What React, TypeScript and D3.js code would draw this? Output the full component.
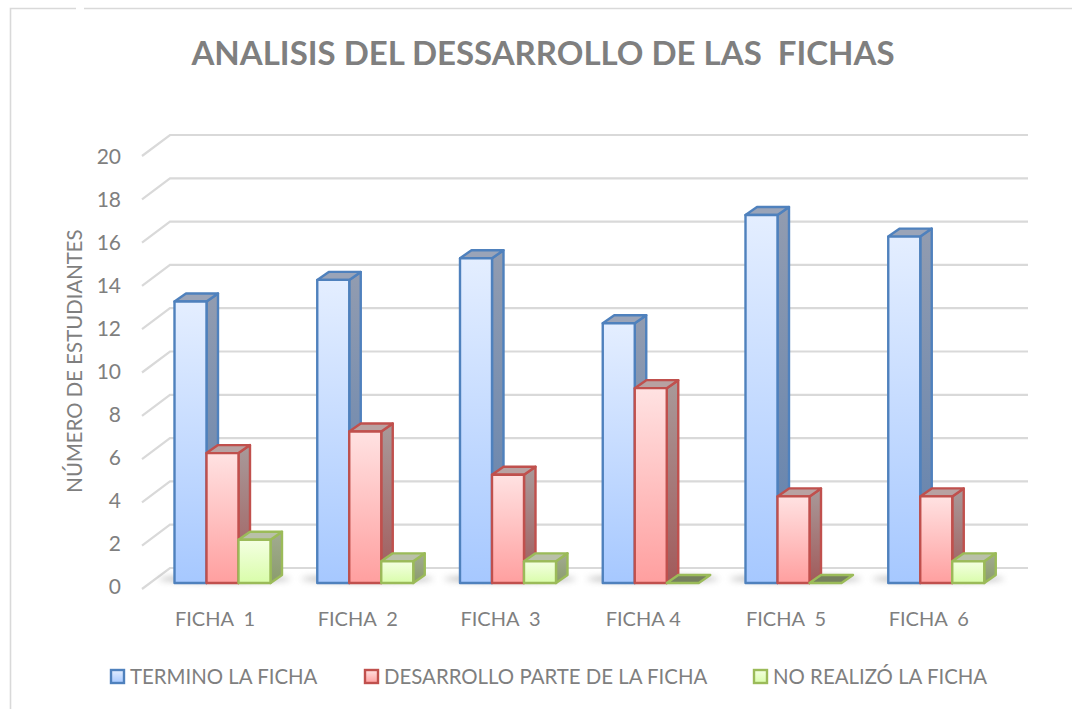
import React from "react";
import * as d3 from "d3";

const categories = ["FICHA  1", "FICHA  2", "FICHA  3", "FICHA 4", "FICHA  5", "FICHA  6"];
const termino = [13, 14, 15, 12, 17, 16];
const desarrollo = [6, 7, 5, 9, 4, 4];
const noRealizo = [2, 1, 1, 0, 0, 1];
const yTicks = [0, 2, 4, 6, 8, 10, 12, 14, 16, 18, 20];
const seriesNames = ["TERMINO LA FICHA", "DESARROLLO PARTE DE LA FICHA", "NO REALIZÓ LA FICHA"];
const seriesKeys = ["blue", "red", "green"];
const seriesValues = [termino, desarrollo, noRealizo];

const FONT = "Lato, 'Open Sans', sans-serif";
const GRAY = "#7f7f7f";

const styles: Record<string, any> = {
  blue: { stroke: "#4F81BD", top: "#E4EEFF", bottom: "#A6C8FF", sideTop: "#929CB0", sideBottom: "#5E80AE", cap: "#9AA4B8" },
  red: { stroke: "#C0504D", top: "#FFE2E2", bottom: "#FF9F9F", sideTop: "#A89A9A", sideBottom: "#A25A5A", cap: "#B8A2A2" },
  green: { stroke: "#9BBB59", top: "#F4FFE2", bottom: "#D9FDAA", sideTop: "#A3AB92", sideBottom: "#8A9C6C", cap: "#B9C0A8" },
};

const DX = 11.5;
const DY = -8;

export default function App() {
  const y = d3.scaleLinear().domain([0, 20]).range([583, 150]);
  const yGrid = d3.scaleLinear().domain([0, 20]).range([568, 135]);
  const yLabel = d3.scaleLinear().domain([0, 20]).range([587, 157]);
  const x = d3.scaleBand<string>().domain(categories).range([143.5, 1000]).paddingInner(0).paddingOuter(0);
  const barW = 32;
  const groupOffset = 31;
  const labelCenter = (c: string) => (x(c) as number) + 71.5;

  return (
    <svg width={1072} height={709} style={{ position: "absolute", left: 0, top: 0, background: "#fff" }} fontFamily={FONT}>
      <defs>
        {seriesKeys.map((k) => (
          <React.Fragment key={k}>
            <linearGradient id={`f-${k}`} x1="0" y1="0" x2="0" y2="1">
              <stop offset="0" stopColor={styles[k].top} />
              <stop offset="1" stopColor={styles[k].bottom} />
            </linearGradient>
            <linearGradient id={`s-${k}`} x1="0" y1="0" x2="0" y2="1">
              <stop offset="0" stopColor={styles[k].sideTop} />
              <stop offset="1" stopColor={styles[k].sideBottom} />
            </linearGradient>
          </React.Fragment>
        ))}
        <filter id="blur" x="-20%" y="-100%" width="140%" height="300%">
          <feGaussianBlur stdDeviation="3" />
        </filter>
      </defs>

      <path d="M10.5 709V8.5H76M84 8.5H1072" fill="none" stroke="#d9d9d9" strokeWidth={1.6} />

      <text x={543} y={65} textAnchor="middle" fontSize={33} fontWeight={700} fill={GRAY} style={{ whiteSpace: "pre" }}>
        ANALISIS DEL DESSARROLLO DE LAS  FICHAS
      </text>

      {yTicks.map((t) => (
        <g key={t}>
          <path d={`M${170 - 28} ${yGrid(t) + 21}L170 ${yGrid(t)}H1028`} fill="none" stroke="#d9d9d9" strokeWidth={2.2} />
          <text x={121} y={yLabel(t)} dy="0.35em" textAnchor="end" fontSize={21} fill={GRAY}>{t}</text>
        </g>
      ))}

      <text transform="translate(75,361) rotate(-90)" textAnchor="middle" dy="0.35em" fontSize={20.4} fill={GRAY}>NÚMERO DE ESTUDIANTES</text>

      {categories.map((c, i) => {
        const x0 = (x(c) as number) + groupOffset;
        return (
          <g key={c}>
            <ellipse cx={x0 + 50} cy={579} rx={66} ry={3.5} fill="#777" opacity={0.5} filter="url(#blur)" />
            {seriesValues.map((vals, si) => {
              const k = seriesKeys[si];
              const s = styles[k];
              const v = vals[i];
              const l = x0 + si * barW;
              const r = l + barW;
              const t = y(v);
              const b = y(0);
              if (v === 0) {
                return (
                  <path key={k} d={`M${l} ${b}L${l + DX} ${b + DY}H${r + DX}L${r} ${b}Z`} fill="#76805f" stroke={s.stroke} strokeWidth={2.4} strokeLinejoin="round" />
                );
              }
              return (
                <g key={k} stroke={s.stroke} strokeWidth={2.4} strokeLinejoin="round">
                  <path d={`M${r} ${t}L${r + DX} ${t + DY}V${b + DY}L${r} ${b}Z`} fill={`url(#s-${k})`} />
                  <path d={`M${l} ${t}L${l + DX} ${t + DY}H${r + DX}L${r} ${t}Z`} fill={s.cap} />
                  <rect x={l} y={t} width={barW} height={b - t} fill={`url(#f-${k})`} />
                </g>
              );
            })}
            <text x={labelCenter(c)} y={619} dy="0.35em" textAnchor="middle" fontSize={20} fill={GRAY} style={{ whiteSpace: "pre" }}>{c}</text>
          </g>
        );
      })}

      {seriesNames.map((n, i) => {
        const k = seriesKeys[i];
        const sx = [111, 365, 754][i];
        return (
          <g key={n}>
            <rect x={sx} y={670} width={13} height={13} fill={`url(#f-${k})`} stroke={styles[k].stroke} strokeWidth={2.4} />
            <text x={sx + 19} y={676.5} dy="0.35em" fontSize={20.4} fill={GRAY}>{n}</text>
          </g>
        );
      })}
    </svg>
  );
}
